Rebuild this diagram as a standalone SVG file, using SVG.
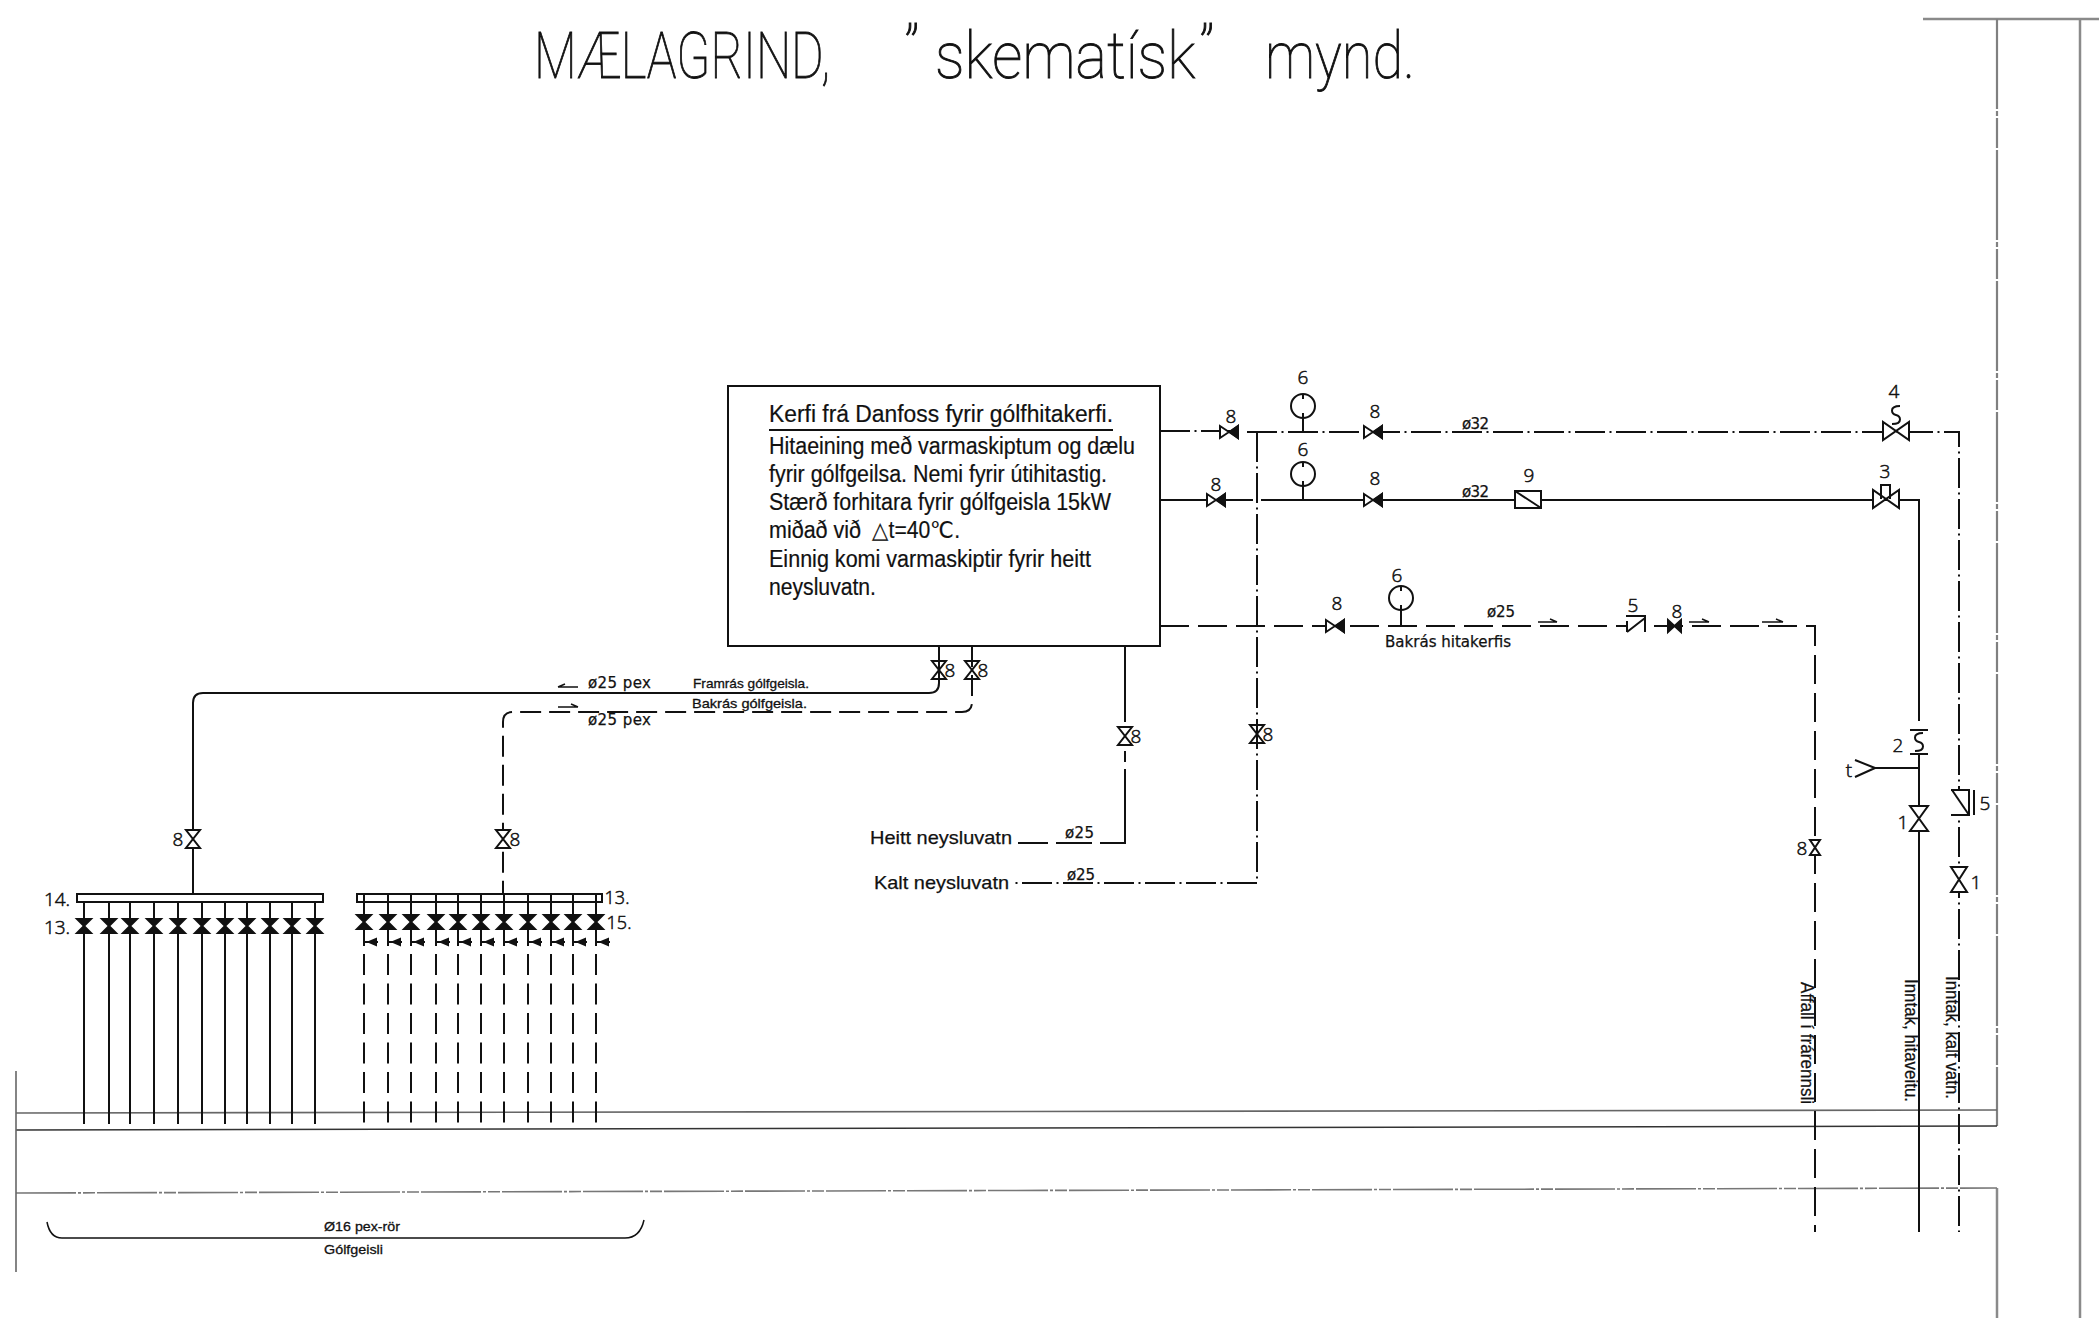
<svg xmlns="http://www.w3.org/2000/svg" xmlns:xlink="http://www.w3.org/1999/xlink" width="2099" height="1318" viewBox="0 0 2099 1318">
<style>
text{font-family:"Liberation Sans",Arial,sans-serif;fill:#111}
.t{font-family:Roboto,"Liberation Sans",sans-serif;font-weight:100;font-size:64px;stroke:#111;stroke-width:.9}
.n{font-family:"Open Sans","Liberation Sans",sans-serif;font-weight:300;font-size:19px;text-anchor:middle;stroke:#111;stroke-width:.5}
.n2{font-size:18px}
.b{font-size:23px;stroke:#111;stroke-width:.2}
.s{font-size:13.500px;stroke:#111;stroke-width:.3}
.d{font-size:15px;font-family:"DejaVu Sans",sans-serif;stroke:#111;stroke-width:.25}
.r{font-size:19px;stroke:#111;stroke-width:.25}
path,line,rect,circle{fill:none;stroke:#111;stroke-width:2}
.w{fill:#fff}.k{fill:#111}
.th{stroke-width:1.5}
.sl{stroke-width:2}
.da{stroke-dasharray:29 9}
.da2{stroke-dasharray:21 8}
.dd{stroke-dasharray:30 4.500 2 4.500}
.g{stroke:#8a8a8a;stroke-width:2.500}
.g2{stroke:#666;stroke-width:1.600}
.g3{stroke:#777;stroke-width:1.600;stroke-dasharray:60 2 3 2 12 2}
.g5{stroke:#808080;stroke-width:2.200;stroke-dasharray:90 2 5 2 30 2}
.g4{stroke:#333;stroke-width:1.600}
</style>
<defs>
<g id="vw"><path class="w" d="M-7 -9H7L-7 9H7Z"/></g>
<g id="vo"><path d="M-7 -9H7L-7 9H7Z"/></g>
<g id="vf"><path class="k" d="M-7 -7H7L-7 7H7Z"/></g>
<g id="hv"><path class="w" d="M-9 -6V6L9 -6V6Z"/><path class="k" d="M9 -6V6L1 0Z"/></g>
<g id="hb"><path class="w" d="M-13 -9V9L13 -9V9Z"/></g>
<g id="sp"><path d="M4 -9Q-4 -9 -4 -4.500Q-4 -1 0 0Q4 1 4 4.500Q4 9 -4 9"/></g>
<g id="tk"><line x1="0" y1="0" x2="14" y2="0"/><line x1="0" y1="-4" x2="0" y2="4"/><path class="k" d="M5 0L12 -3V3Z"/></g>
</defs>

<g id="building">
<path class="g" d="M1923 19H2099M2080 19V1318"/>
<path class="g5" d="M1997 19V1126"/>
<path class="g" d="M1997 1188V1318"/>
<path class="g2" d="M16 1113L1997 1110"/>
<path class="g4" d="M16 1130L1997 1126"/>
<path class="g3" d="M16 1193L1997 1188"/>
<path class="g2" d="M16 1071V1272"/>
</g>

<g id="connectors">
<path class="sl" d="M193 894V703Q193 693 203 693H929Q939 693 939 683V646"/>
<path class="sl da2" d="M972 646V702Q972 712 962 712H513Q503 712 503 722V894"/>
<path class="sl dd" d="M1160 431H1238M1247 432H1896H1959V1232"/>
<path class="sl" d="M1247 432H1267"/>
<path class="sl dd" d="M1257 432V883H1015"/>
<path class="sl" d="M1160 500H1253M1261 500H1919V721"/>
<path class="sl" d="M1919 754V1232"/>
<path class="sl da" d="M1160 626H1815V1232"/>
<path class="sl" d="M1125 646V722M1125 751V762M1125 769V843H1100M1092 843H1056M1048 843H1018"/>
<path class="sl" d="M1919 768H1875M1875 768L1855 760M1875 768L1855 777"/>
<path id="brace" class="th" d="M47 1222Q50 1238 62 1238H625Q640 1238 644 1220"/>
<g id="risers-supply">
<path class="sl" d="M84 902V1124M109 902V1124M130 902V1124M154 902V1124M178 902V1124M202 902V1124M225 902V1124M247 902V1124M270 902V1124M292 902V1124M315 902V1124"/>
</g>
<g id="risers-return">
<path class="sl" d="M364 902V942M388 902V942M411 902V942M436 902V942M458 902V942M481 902V942M504 902V942M528 902V942M551 902V942M573 902V942M596 902V942"/>
<path class="sl" stroke-dasharray="21 8.500" d="M364 954V1124M388 954V1124M411 954V1124M436 954V1124M458 954V1124M481 954V1124M504 954V1124M528 954V1124M551 954V1124M573 954V1124M596 954V1124"/>
</g>
</g>

<g id="title">
<text class="t" transform="translate(534 78) scale(.777 1)">MÆLAGRIND,</text>
<text class="t" x="904" y="72">”</text>
<text class="t" transform="translate(935 78) scale(.93 1)">skematísk</text>
<text class="t" x="1199" y="72">”</text>
<text class="t" x="1265" y="78" textLength="150" lengthAdjust="spacingAndGlyphs">mynd.</text>
</g>

<g id="danfoss-box">
<rect class="w" x="728" y="386" width="432" height="260"/>
<text class="b" x="769" y="422" textLength="344" lengthAdjust="spacingAndGlyphs">Kerfi frá Danfoss fyrir gólfhitakerfi.</text>
<line x1="769" y1="430" x2="1113" y2="430"/>
<text class="b" x="769" y="454" textLength="366" lengthAdjust="spacingAndGlyphs">Hitaeining með varmaskiptum og dælu</text>
<text class="b" x="769" y="482" textLength="338" lengthAdjust="spacingAndGlyphs">fyrir gólfgeilsa. Nemi fyrir útihitastig.</text>
<text class="b" x="769" y="510" textLength="342" lengthAdjust="spacingAndGlyphs">Stærð forhitara fyrir gólfgeisla 15kW</text>
<text class="b" x="769" y="538" textLength="92" lengthAdjust="spacingAndGlyphs">miðað við</text>
<text class="b" x="872" y="538" textLength="88" lengthAdjust="spacingAndGlyphs">△t=40℃.</text>
<text class="b" x="769" y="567" textLength="322" lengthAdjust="spacingAndGlyphs">Einnig komi varmaskiptir fyrir heitt</text>
<text class="b" x="769" y="595" textLength="107" lengthAdjust="spacingAndGlyphs">neysluvatn.</text>
</g>

<g id="manifold-supply">
<rect class="w" x="77" y="894" width="246" height="8"/>
<text class="n" x="57" y="906">14.</text>
<text class="n" x="57" y="934">13.</text>
<use href="#vf" x="84" y="926"/><use href="#vf" x="109" y="926"/><use href="#vf" x="130" y="926"/><use href="#vf" x="154" y="926"/><use href="#vf" x="178" y="926"/><use href="#vf" x="202" y="926"/><use href="#vf" x="225" y="926"/><use href="#vf" x="247" y="926"/><use href="#vf" x="270" y="926"/><use href="#vf" x="292" y="926"/><use href="#vf" x="315" y="926"/>
</g>
<g id="manifold-return">
<rect class="w" x="357" y="894" width="245" height="8"/>
<path class="sl" d="M364 894V902M388 894V902M411 894V902M436 894V902M458 894V902M481 894V902M504 894V902M528 894V902M551 894V902M573 894V902M596 894V902"/>
<text class="n n2" x="617" y="904">13.</text>
<text class="n n2" x="619" y="929">15.</text>
<use href="#vf" x="364" y="922"/><use href="#vf" x="388" y="922"/><use href="#vf" x="411" y="922"/><use href="#vf" x="436" y="922"/><use href="#vf" x="458" y="922"/><use href="#vf" x="481" y="922"/><use href="#vf" x="504" y="922"/><use href="#vf" x="528" y="922"/><use href="#vf" x="551" y="922"/><use href="#vf" x="573" y="922"/><use href="#vf" x="596" y="922"/>
<use href="#tk" x="364" y="942"/><use href="#tk" x="388" y="942"/><use href="#tk" x="411" y="942"/><use href="#tk" x="436" y="942"/><use href="#tk" x="458" y="942"/><use href="#tk" x="481" y="942"/><use href="#tk" x="504" y="942"/><use href="#tk" x="528" y="942"/><use href="#tk" x="551" y="942"/><use href="#tk" x="573" y="942"/><use href="#tk" x="596" y="942"/>
</g>

<g id="valves-8">
<g id="v8a"><use href="#vw" transform="translate(193 839)"/><text class="n" x="178" y="846">8</text></g>
<g id="v8b"><use href="#vw" transform="translate(503 839)"/><text class="n" x="515" y="846">8</text></g>
<g id="v8c"><use href="#vo" transform="translate(939 670)"/><text class="n" x="950" y="677">8</text></g>
<g id="v8d"><use href="#vo" transform="translate(972 670)"/><text class="n" x="983" y="677">8</text></g>
<g id="v8e"><use href="#vo" transform="translate(1125 736)"/><text class="n" x="1136" y="743">8</text></g>
<g id="v8f"><use href="#vo" transform="translate(1257 734)"/><text class="n" x="1268" y="741">8</text></g>
<g id="v8g"><use href="#hv" x="1229" y="432"/><text class="n" x="1231" y="423">8</text></g>
<g id="v8h"><use href="#hv" x="1216" y="500"/><text class="n" x="1216" y="491">8</text></g>
<g id="v8i"><use href="#hv" x="1373" y="432"/><text class="n" x="1375" y="418">8</text></g>
<g id="v8j"><use href="#hv" x="1373" y="500"/><text class="n" x="1375" y="485">8</text></g>
<g id="v8k"><use href="#hv" x="1335" y="626"/><text class="n" x="1337" y="610">8</text></g>
<g id="v8l"><path class="k" d="M1668 620V632L1681 620V632Z"/><text class="n" x="1677" y="618">8</text></g>
<g id="v8m"><path class="w" d="M1810 840H1820L1810 855H1820Z"/><text class="n" x="1802" y="855">8</text></g>
</g>

<g id="gauges">
<g id="g6a"><circle class="w" cx="1303" cy="406" r="12"/><path d="M1303 394V399M1303 413V418M1303 418V432"/><text class="n" x="1303" y="384">6</text></g>
<g id="g6b"><circle class="w" cx="1303" cy="474" r="12"/><path d="M1303 462V467M1303 481V486M1303 486V500"/><text class="n" x="1303" y="456">6</text></g>
<g id="g6c"><circle class="w" cx="1401" cy="598" r="12"/><path d="M1401 586V591M1401 605V610M1401 610V626"/><text class="n" x="1397" y="582">6</text></g>
</g>

<g id="item-9"><rect class="w" x="1515" y="491" width="26" height="17"/><line x1="1515" y1="491" x2="1541" y2="508"/><text class="n" x="1529" y="482">9</text></g>
<g id="item-4"><use href="#hb" x="1896" y="431"/><use href="#sp" x="1896" y="415"/><text class="n" x="1894" y="398">4</text></g>
<g id="item-3"><use href="#hb" x="1886" y="499"/><path d="M1881 499V485H1890V499"/><text class="n" x="1885" y="478">3</text></g>
<g id="item-2"><line x1="1910" y1="730" x2="1928" y2="730"/><line x1="1910" y1="754" x2="1928" y2="754"/><use href="#sp" x="1919" y="742"/><text class="n" x="1898" y="752">2</text></g>
<g id="item-t"><text class="n" x="1849" y="777">t</text></g>
<g id="item-1a"><path class="w" d="M1910 806H1928L1910 831H1928Z"/><text class="n" x="1903" y="829">1</text></g>
<g id="item-1b"><path class="w" d="M1951 867H1967L1951 892H1967Z"/><text class="n" x="1976" y="889">1</text></g>
<g id="item-5a"><path class="w" d="M1951 790H1969V815H1951"/><path d="M1952 790L1969 815"/><line x1="1974" y1="790" x2="1974" y2="815"/><text class="n" x="1985" y="810">5</text></g>
<g id="item-5b"><path class="w" d="M1627 632V620L1645 618V632Z" style="stroke:none"/><path d="M1627 632V621M1627 632L1645 618M1645 617V632M1626 616H1646"/><text class="n" x="1633" y="612">5</text></g>

<g id="flow-arrows">
<path class="k th" d="M558 687H578M558 687L565 684"/>
<path class="k th" d="M558 707H578M578 707L571 704"/>
<path class="k th" d="M1538 622H1557M1557 622L1550 619"/>
<path class="k th" d="M1689 622H1709M1709 622L1702 619"/>
<path class="k th" d="M1762 622H1783M1783 622L1776 619"/>
</g>

<g id="labels">
<text class="d" x="588" y="688" textLength="63" lengthAdjust="spacing">ø25 pex</text>
<text class="d" x="588" y="725" textLength="63" lengthAdjust="spacing">ø25 pex</text>
<text class="s" x="693" y="688" textLength="116" lengthAdjust="spacingAndGlyphs">Framrás gólfgeisla.</text>
<text class="s" x="692" y="708" textLength="115" lengthAdjust="spacingAndGlyphs">Bakrás gólfgeisla.</text>
<text class="r" x="870" y="844" textLength="142" lengthAdjust="spacingAndGlyphs">Heitt neysluvatn</text>
<text class="r" x="874" y="889" textLength="135" lengthAdjust="spacingAndGlyphs">Kalt neysluvatn</text>
<text class="d" x="1065" y="838" textLength="29">ø25</text>
<text class="d" x="1067" y="880" textLength="28">ø25</text>
<text class="d" x="1462" y="429" textLength="27">ø32</text>
<text class="d" x="1462" y="497" textLength="27">ø32</text>
<text class="d" x="1487" y="617" textLength="28">ø25</text>
<text class="d" x="1385" y="647" textLength="126" lengthAdjust="spacingAndGlyphs">Bakrás hitakerfis</text>
<text class="s" x="324" y="1231" textLength="76" lengthAdjust="spacingAndGlyphs">Ø16 pex-rör</text>
<text class="s" x="324" y="1254" textLength="59" lengthAdjust="spacingAndGlyphs">Gólfgeisli</text>
<text class="r" transform="translate(1801 982) rotate(90)" textLength="122" lengthAdjust="spacingAndGlyphs">Affall í frárennsli</text>
<text class="r" transform="translate(1905 979) rotate(90)" textLength="123" lengthAdjust="spacingAndGlyphs">Inntak, hitaveitu.</text>
<text class="r" transform="translate(1946 976) rotate(90)" textLength="123" lengthAdjust="spacingAndGlyphs">Inntak, kalt vatn.</text>
</g>
</svg>
